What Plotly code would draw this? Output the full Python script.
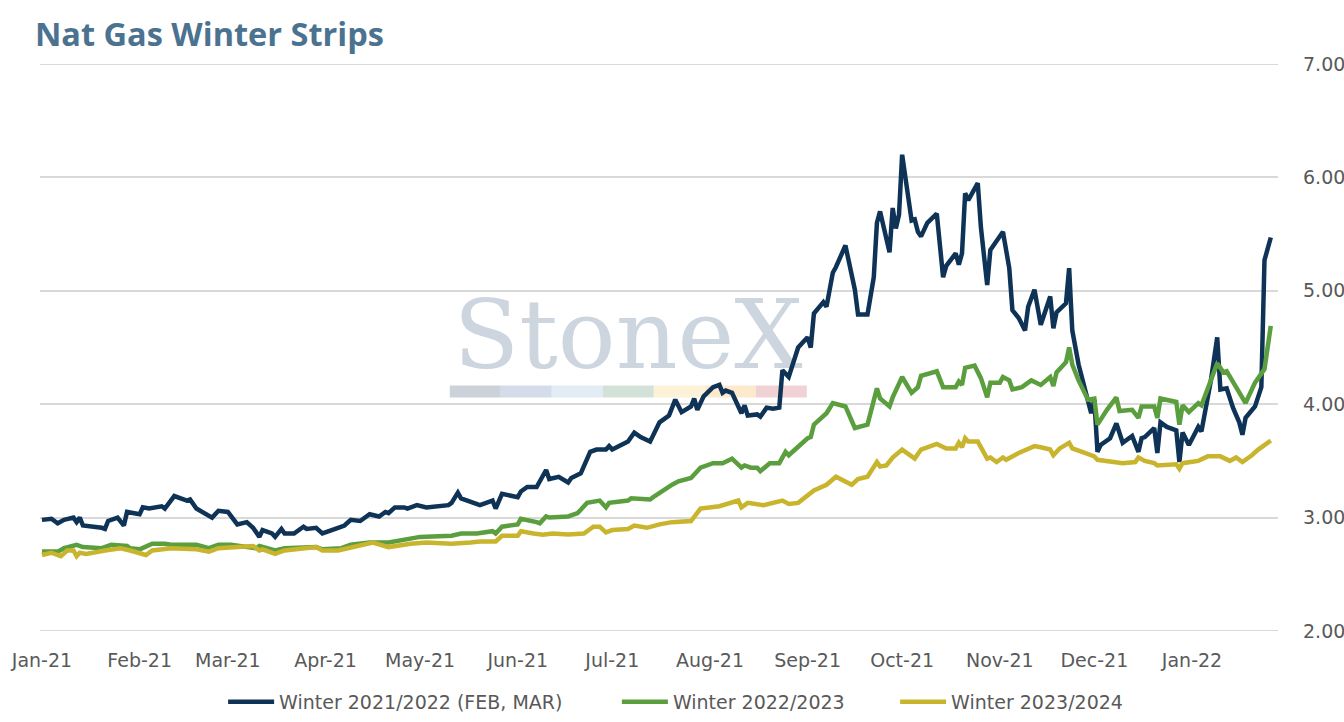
import pandas as pd
import plotly.graph_objects as go

# Winter strip settlements. x values are day offsets from 30-Dec-2020
base_date = pd.Timestamp("2020-12-30")

w2122_days = [2, 5, 7, 9, 12, 13, 14, 15, 21, 22, 23, 26, 28, 29, 33, 34, 36, 40, 41, 44, 48, 49, 51, 55, 56,
              58, 61, 64, 67, 69, 71, 72, 75, 76, 78, 79, 82, 85, 86, 89, 91, 96, 98, 100, 103, 106, 109, 111,
              112, 114, 117, 118, 121, 124, 131, 132, 134, 135, 138, 141, 145, 146, 148, 153, 154, 156, 159,
              162, 163, 166, 169, 170, 173, 176, 178, 181, 182, 183, 188, 190, 192, 195, 198, 201, 203, 205,
              208, 209, 210, 212, 215, 217, 218, 219, 221, 223, 224, 225, 226, 229, 230, 232, 234, 236, 237,
              239, 242, 245, 246, 247, 250, 251, 253, 254, 257, 260, 261, 264, 266, 267, 268, 271, 272, 273,
              274, 275, 278, 279, 280, 281, 283, 286, 288, 289, 292, 293, 294, 295, 296, 299, 300, 302, 303,
              307, 309, 310, 312, 314, 315, 317, 319, 322, 323, 324, 327, 328, 329, 331, 334, 335, 336, 337,
              338, 341, 343, 345, 348, 350, 351, 352, 355, 356, 357, 359, 362, 363, 364, 366, 369, 370, 373,
              375, 376, 378, 380, 382, 383, 384, 387, 389, 390, 392]
w2122_vals = [2.98, 2.99, 2.95, 2.98, 3.00, 2.96, 3.00, 2.93, 2.91, 2.90, 2.97, 3.00, 2.93, 3.05, 3.03, 3.09,
              3.08, 3.10, 3.08, 3.19, 3.15, 3.16, 3.08, 3.01, 3.00, 3.06, 3.05, 2.94, 2.96, 2.91, 2.83, 2.89,
              2.86, 2.83, 2.90, 2.86, 2.86, 2.92, 2.90, 2.91, 2.86, 2.91, 2.93, 2.98, 2.97, 3.03, 3.01, 3.05,
              3.04, 3.09, 3.09, 3.08, 3.11, 3.09, 3.11, 3.13, 3.22, 3.17, 3.14, 3.11, 3.15, 3.08, 3.21, 3.18,
              3.23, 3.27, 3.27, 3.42, 3.34, 3.36, 3.31, 3.35, 3.39, 3.58, 3.60, 3.60, 3.63, 3.60, 3.67, 3.75,
              3.71, 3.67, 3.84, 3.90, 4.04, 3.93, 3.98, 4.05, 3.95, 4.07, 4.15, 4.17, 4.10, 4.12, 4.10, 3.99,
              3.92, 3.99, 3.90, 3.91, 3.89, 3.97, 3.96, 3.97, 4.30, 4.24, 4.50, 4.59, 4.50, 4.80, 4.90, 4.86,
              5.16, 5.21, 5.40, 5.01, 4.79, 4.79, 5.12, 5.60, 5.70, 5.34, 5.73, 5.55, 5.67, 6.20, 5.62, 5.63,
              5.52, 5.48, 5.60, 5.68, 5.12, 5.22, 5.33, 5.23, 5.33, 5.86, 5.80, 5.95, 5.56, 5.05, 5.36, 5.52,
              5.20, 4.83, 4.76, 4.65, 4.86, 5.01, 4.70, 4.95, 4.67, 4.81, 4.89, 5.20, 4.65, 4.35, 4.04, 3.92,
              4.04, 3.58, 3.64, 3.70, 3.83, 3.66, 3.72, 3.58, 3.70, 3.71, 3.79, 3.57, 3.84, 3.80, 3.77, 3.49,
              3.75, 3.64, 3.80, 3.76, 4.21, 4.59, 4.13, 4.14, 3.97, 3.84, 3.73, 3.88, 3.98, 4.15, 5.27, 5.47]

w2223_days = [2, 7, 9, 13, 15, 21, 24, 29, 30, 33, 37, 41, 43, 51, 55, 58, 62, 70, 71, 76, 79, 89, 91, 97, 100,
              106, 112, 116, 122, 132, 135, 140, 145, 146, 148, 153, 154, 159, 160, 162, 163, 169, 172, 173,
              175, 179, 181, 182, 188, 189, 195, 196, 199, 202, 204, 208, 211, 215, 218, 221, 224, 225, 227,
              229, 230, 233, 236, 238, 239, 242, 245, 246, 247, 251, 253, 257, 260, 264, 267, 268, 271, 272,
              275, 278, 280, 281, 286, 288, 292, 293, 294, 295, 298, 300, 302, 303, 306, 307, 309, 310, 313,
              316, 319, 322, 323, 324, 327, 328, 329, 331, 334, 336, 337, 340, 343, 344, 348, 350, 351, 355,
              356, 357, 362, 363, 364, 366, 369, 370, 373, 375, 377, 378, 381, 384, 387, 390, 392]
w2223_vals = [2.70, 2.70, 2.73, 2.76, 2.74, 2.73, 2.76, 2.75, 2.73, 2.72, 2.77, 2.77, 2.76, 2.76, 2.73, 2.76,
              2.76, 2.73, 2.75, 2.71, 2.73, 2.74, 2.72, 2.73, 2.76, 2.78, 2.78, 2.80, 2.83, 2.84, 2.86, 2.86,
              2.88, 2.86, 2.92, 2.94, 2.99, 2.96, 2.95, 3.01, 3.00, 3.01, 3.04, 3.07, 3.13, 3.15, 3.09, 3.13,
              3.15, 3.17, 3.16, 3.18, 3.24, 3.29, 3.32, 3.35, 3.44, 3.48, 3.48, 3.52, 3.44, 3.46, 3.44, 3.44,
              3.41, 3.48, 3.48, 3.58, 3.55, 3.62, 3.70, 3.71, 3.82, 3.92, 4.01, 3.98, 3.79, 3.82, 4.14, 4.05,
              3.98, 4.06, 4.24, 4.10, 4.15, 4.25, 4.29, 4.15, 4.15, 4.20, 4.17, 4.32, 4.34, 4.23, 4.06, 4.19,
              4.19, 4.24, 4.21, 4.13, 4.15, 4.21, 4.17, 4.24, 4.16, 4.28, 4.37, 4.50, 4.35, 4.21, 4.04, 4.05,
              3.82, 3.95, 4.06, 3.94, 3.95, 3.88, 3.98, 3.98, 3.88, 4.05, 4.02, 3.82, 3.99, 3.93, 4.01, 3.99,
              4.20, 4.36, 4.28, 4.29, 4.15, 4.01, 4.19, 4.31, 4.69]

w2324_days = [2, 5, 8, 10, 12, 13, 14, 16, 22, 27, 30, 35, 37, 41, 43, 51, 55, 58, 66, 69, 71, 72, 76, 79, 89,
              91, 96, 99, 106, 107, 112, 119, 124, 132, 138, 141, 146, 148, 153, 154, 158, 161, 164, 169, 174,
              177, 179, 181, 183, 188, 190, 194, 198, 202, 208, 211, 217, 221, 223, 224, 226, 231, 237, 239,
              242, 247, 251, 254, 257, 259, 261, 264, 267, 268, 270, 272, 275, 279, 281, 286, 289, 292, 293,
              294, 295, 296, 299, 302, 303, 305, 307, 308, 312, 317, 319, 322, 323, 325, 328, 329, 333, 336,
              337, 342, 345, 349, 350, 352, 355, 356, 362, 363, 364, 369, 372, 376, 379, 381, 383, 386, 388,
              392]
w2324_vals = [2.67, 2.69, 2.66, 2.71, 2.71, 2.66, 2.69, 2.68, 2.71, 2.73, 2.71, 2.67, 2.71, 2.72, 2.73, 2.72,
              2.70, 2.73, 2.75, 2.75, 2.71, 2.72, 2.68, 2.71, 2.74, 2.71, 2.71, 2.73, 2.77, 2.78, 2.74, 2.77,
              2.78, 2.77, 2.78, 2.79, 2.79, 2.84, 2.84, 2.88, 2.86, 2.85, 2.86, 2.85, 2.86, 2.92, 2.92, 2.87,
              2.89, 2.90, 2.93, 2.91, 2.94, 2.96, 2.97, 3.08, 3.10, 3.13, 3.15, 3.09, 3.13, 3.11, 3.15, 3.12,
              3.13, 3.24, 3.29, 3.36, 3.32, 3.29, 3.34, 3.36, 3.49, 3.45, 3.46, 3.53, 3.60, 3.52, 3.60, 3.65,
              3.61, 3.61, 3.66, 3.62, 3.70, 3.67, 3.67, 3.52, 3.53, 3.49, 3.53, 3.51, 3.57, 3.63, 3.62, 3.60,
              3.55, 3.61, 3.66, 3.61, 3.57, 3.54, 3.51, 3.49, 3.48, 3.49, 3.53, 3.50, 3.48, 3.46, 3.47, 3.43,
              3.48, 3.50, 3.54, 3.54, 3.50, 3.53, 3.49, 3.55, 3.60, 3.68]

series_names = ["Winter 2021/2022 (FEB, MAR)", "Winter 2022/2023", "Winter 2023/2024"]
series_colors = ["#0e3356", "#5b9e3e", "#c9b42d"]

y_ticks = [2, 3, 4, 5, 6, 7]
tick_dates = pd.date_range("2021-01-01", "2022-01-01", freq="MS")
tick_labels = ["Jan-21", "Feb-21", "Mar-21", "Apr-21", "May-21", "Jun-21", "Jul-21",
               "Aug-21", "Sep-21", "Oct-21", "Nov-21", "Dec-21", "Jan-22"]

# watermark colour strip under the logo
strip_colors = ["#cbd2da", "#d3dce8", "#e2ecf5", "#d2e2d9", "#fbf2d7", "#fde9cc", "#f0d2d4"]

# one legend per series so the entries sit where the original has them
legend_ids = ["legend", "legend2", "legend3"]
legend_x = [0.166, 0.459, 0.666]


def to_dates(days):
    return base_date + pd.to_timedelta(days, unit="D")


fig = go.Figure()
for days, vals, name, color, lg in zip([w2122_days, w2223_days, w2324_days],
                                       [w2122_vals, w2223_vals, w2324_vals],
                                       series_names, series_colors, legend_ids):
    fig.add_trace(go.Scatter(x=to_dates(days), y=vals, mode="lines", name=name, legend=lg,
                             showlegend=True, line=dict(color=color, width=4.5)))

# StoneX watermark, drawn below the lines
shapes = [dict(type="rect", xref="paper", yref="paper", x0=0.33, x1=0.62, y0=0.465, y1=0.605,
               line=dict(width=0), fillcolor="rgba(0,0,0,0)", layer="below",
               label=dict(text="StoneX", textposition="middle center",
                          font=dict(family="DejaVu Serif", size=96, color="#cdd5de")))]
seg_w = 0.0412
for i, c in enumerate(strip_colors):
    shapes.append(dict(type="rect", xref="paper", yref="paper",
                       x0=0.331 + i * seg_w, x1=0.331 + (i + 1) * seg_w, y0=0.412, y1=0.433,
                       line=dict(width=0), fillcolor=c, layer="below"))
# gridlines on the range ends
for yv in (y_ticks[0], y_ticks[-1]):
    shapes.append(dict(type="line", xref="paper", yref="y", x0=0, x1=1, y0=yv, y1=yv,
                       line=dict(color="#d9d9d9", width=2), layer="below"))

tick_font = dict(family="DejaVu Sans", size=19, color="#595959")

legends = {}
for lg, lx in zip(legend_ids, legend_x):
    legends[lg] = dict(orientation="h", xref="container", x=lx, xanchor="left",
                       yref="container", y=0.028, yanchor="middle", font=tick_font,
                       itemwidth=46, bgcolor="rgba(0,0,0,0)", visible=True)

fig.update_layout(
    width=1344, height=722,
    showlegend=True,
    margin=dict(l=40, r=66, t=64, b=91, autoexpand=False),
    paper_bgcolor="white", plot_bgcolor="white",
    title=dict(text="Nat Gas Winter Strips", x=0.026, xanchor="left", y=0.952, yanchor="middle",
               xref="container", yref="container",
               font=dict(family="Open Sans", size=32.5, color="#4b728f", weight=700)),
    xaxis=dict(type="date", range=["2020-12-31 09:00", "2022-01-28 07:00"],
               tickvals=tick_dates, ticktext=tick_labels, tickangle=0, showgrid=False, zeroline=False,
               showline=False, ticks="", tickfont=tick_font, ticklabelstandoff=16),
    yaxis=dict(range=[y_ticks[0], y_ticks[-1]], tickvals=y_ticks, tickformat=".2f", side="right",
               showgrid=True, gridcolor="#d9d9d9", gridwidth=2, zeroline=False, showline=False,
               ticks="", tickfont=tick_font, ticklabelstandoff=24),
    shapes=shapes,
    **legends,
)

fig.write_html("out.html", config={"displayModeBar": False},
               post_script="document.body.style.margin='0px';")
